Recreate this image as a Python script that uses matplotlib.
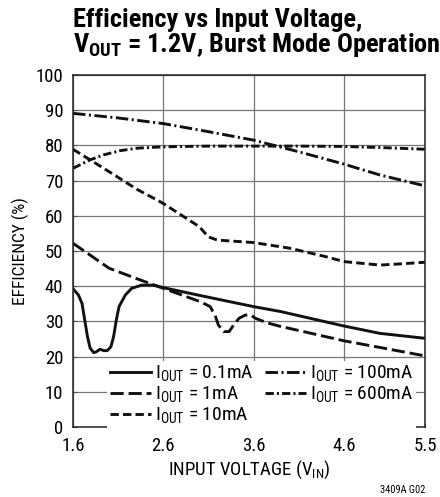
import matplotlib
matplotlib.use("Agg")
import matplotlib.pyplot as plt
from matplotlib import font_manager

# pick a condensed sans (the reference uses Helvetica Condensed)
have = set(f.name for f in font_manager.fontManager.ttflist)
font = 'Liberation Sans'
for cand in ['Roboto Condensed', 'Archivo Narrow', 'Barlow Semi Condensed', 'Encode Sans Condensed',
             'Sofia Sans Condensed', 'Liberation Sans Narrow']:
    if cand in have:
        font = cand
        break

plt.rcParams['font.family'] = [font, 'DejaVu Sans']
plt.rcParams['mathtext.fontset'] = 'custom'
plt.rcParams['mathtext.rm'] = font
plt.rcParams['mathtext.bf'] = font + ':bold'
plt.rcParams['lines.scale_dashes'] = False

# data
v_01 = [1.60, 1.61, 1.66, 1.70, 1.73, 1.76, 1.79, 1.83, 1.86, 1.90, 1.94, 1.98, 2.02, 2.05, 2.08, 2.11,
        2.18, 2.25, 2.36, 2.49, 2.60, 3.00, 3.60, 3.90, 4.60, 5.00, 5.50]
e_01 = [39.2, 39.0, 37.5, 35.1, 30.4, 25.7, 22.4, 21.1, 21.4, 22.1, 21.7, 21.7, 22.8, 25.7, 30.4, 34.2,
        37.5, 39.4, 40.3, 40.3, 39.6, 37.4, 34.2, 32.8, 28.7, 26.6, 25.2]

v_1 = [1.6, 2.0, 2.3, 2.6, 3.01, 3.12, 3.18, 3.21, 3.27, 3.33, 3.38, 3.44, 3.51, 3.57, 3.62, 3.75, 3.88,
       4.6, 5.0, 5.5]
e_1 = [52.2, 45.1, 42.2, 39.4, 35.6, 34.2, 31.3, 29.0, 27.1, 27.1, 29.0, 30.9, 31.8, 31.8, 30.9, 29.6, 28.7,
       24.5, 22.6, 20.2]

v_10 = [1.6, 1.94, 2.31, 2.53, 2.6, 3.0, 3.1, 3.2, 3.6, 4.0, 4.4, 4.6, 5.0, 5.2, 5.5]
e_10 = [78.9, 73.5, 67.5, 64.5, 63.5, 56.9, 54.0, 53.1, 52.4, 50.8, 48.4, 47.0, 46.0, 46.3, 46.8]

v_100 = [1.6, 2.1, 2.6, 3.1, 3.6, 4.1, 4.6, 5.0, 5.5]
e_100 = [89.1, 87.8, 86.2, 83.9, 81.5, 78.2, 74.7, 71.6, 68.5]

v_600 = [1.6, 1.79, 1.94, 2.12, 2.31, 2.6, 3.1, 3.6, 4.1, 4.6, 5.0, 5.5]
e_600 = [73.5, 75.9, 77.3, 78.5, 79.2, 79.6, 79.8, 79.8, 79.8, 79.7, 79.4, 78.9]

x_ticks = [1.6, 2.6, 3.6, 4.6, 5.5]
y_ticks = list(range(0, 101, 10))

fig = plt.figure(figsize=(4.4, 4.97), dpi=100)
ax = fig.add_axes([73 / 440, 70 / 497, 352 / 440, 352 / 497])

lw = 2.1
ax.plot(v_01, e_01, color='#111111', lw=lw, label=r'I$_{\mathrm{OUT}}$ = 0.1mA')
ax.plot(v_1, e_1, color='#111111', lw=lw, dashes=(9.5, 3.5), label=r'I$_{\mathrm{OUT}}$ = 1mA')
ax.plot(v_10, e_10, color='#111111', lw=lw, dashes=(6, 3), label=r'I$_{\mathrm{OUT}}$ = 10mA')
ax.plot(v_100, e_100, color='#111111', lw=lw, dashes=(9, 2.5, 1.5, 2.5), label=r'I$_{\mathrm{OUT}}$ = 100mA')
ax.plot(v_600, e_600, color='#111111', lw=lw, dashes=(6, 2.2, 1.5, 2.2), label=r'I$_{\mathrm{OUT}}$ = 600mA')

ax.set_xlim(1.6, 5.5)
ax.set_ylim(0, 100)
ax.set_xticks(x_ticks)
ax.set_xticklabels(['1.6', '2.6', '3.6', '4.6', '5.5'])
ax.set_yticks(y_ticks)
ax.grid(True, color='#777777', lw=0.9)
ax.set_axisbelow(True)
ax.tick_params(direction='in', length=3, width=0.8, color='#555555', labelsize=13.5, pad=7)
for s in ax.spines.values():
    s.set_color('#222222')
    s.set_linewidth(1.1)

ax.set_xlabel(r'INPUT VOLTAGE (V$_{\mathrm{IN}}$)', fontsize=13.5, labelpad=3)
ax.set_ylabel('EFFICIENCY (%)', fontsize=12.5, labelpad=5)

leg = ax.legend(ncol=2, loc='lower right', bbox_to_anchor=(0.974, -0.005), fontsize=14,
                handlelength=2.1, handletextpad=0.2, columnspacing=0.6, labelspacing=0.02,
                borderpad=0.15, borderaxespad=0.0, frameon=True, fancybox=False)
leg.get_frame().set_facecolor('white')
leg.get_frame().set_edgecolor('none')
leg.get_frame().set_alpha(1)

fig.text(73 / 440, 1 - 27 / 497, 'Efficiency vs Input Voltage,', fontsize=19, fontweight='bold',
         ha='left', va='baseline')
fig.text(73 / 440, 1 - 52 / 497, r'V$_{\mathbf{OUT}}$ = 1.2V, Burst Mode Operation', fontsize=19,
         fontweight='bold', ha='left', va='baseline')
fig.text(425 / 440, 1 - 493 / 497, '3409A G02', fontsize=7.5, ha='right', va='baseline')

fig.savefig('out.png', dpi=100)
